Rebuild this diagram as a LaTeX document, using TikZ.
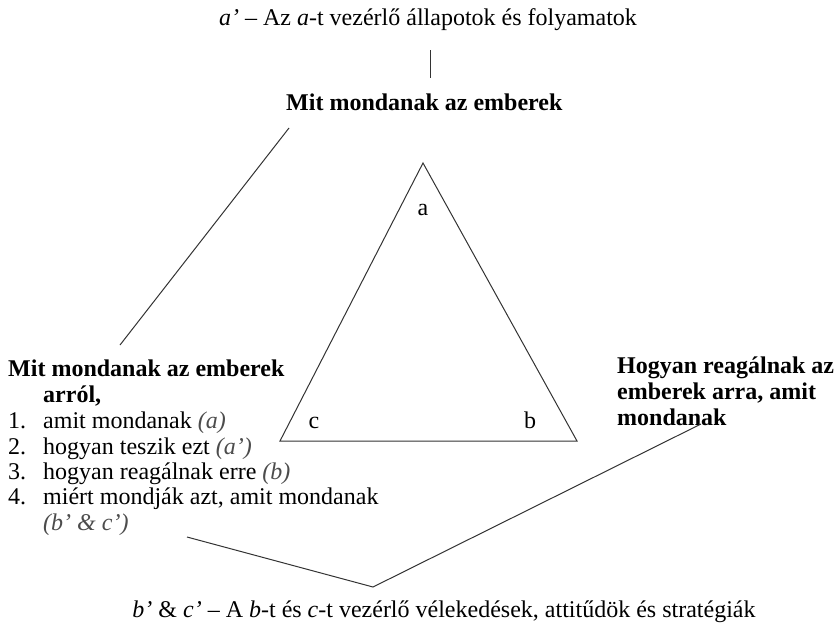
\documentclass[tikz,border=0pt]{standalone}
\usepackage{fontspec}
\setmainfont{Liberation Serif}
\begin{document}
\begin{tikzpicture}[x=1pt,y=-1pt,
  txt/.style={inner sep=0pt, anchor=base west, font=\fontsize{24}{26}\selectfont},
  ctxt/.style={inner sep=0pt, anchor=base, font=\fontsize{24}{26}\selectfont},
  bld/.style={inner sep=0pt, anchor=base west, font=\fontsize{24}{26}\selectfont\bfseries},
  ln/.style={line width=1pt, draw=black!80},
  par/.style={black!70}]
\useasboundingbox (0,0) rectangle (837,629);
% top text
\node[ctxt] (top) at (428,25) {\textit{a’} – Az \textit{a}-t vezérlő állapotok és folyamatok};
\node[bld] (mit) at (286,110) {Mit mondanak az emberek};
% triangle
\coordinate (A) at (423,163);
\coordinate (B) at (577,441);
\coordinate (C) at (280,441);
\draw[ln] (A) -- (B) -- (C) -- cycle;
\node[ctxt] (la) at (423,215) {a};
\node[ctxt] (lb) at (530,428) {b};
\node[ctxt] (lc) at (314,428) {c};
% left block
\node[bld] (l1) at (8,376) {Mit mondanak az emberek};
\node[bld] (l2) at (43,402) {arról,};
\node[txt] (n1) at (8,428) {1.};
\node[txt] (t1) at (43,428) {amit mondanak \textit{\color{black!70}(a)}};
\node[txt] (n2) at (8,454) {2.};
\node[txt] (t2) at (43,454) {hogyan teszik ezt \textit{\color{black!70}(a’)}};
\node[txt] (n3) at (8,479) {3.};
\node[txt] (t3) at (43,479) {hogyan reagálnak erre \textit{\color{black!70}(b)}};
\node[txt] (n4) at (8,504) {4.};
\node[txt] (t4) at (43,504) {miért mondják azt, amit mondanak};
\node[txt] (t5) at (43,530) {\textit{\color{black!70}(b’ \& c’)}};
% right block
\node[bld] (r1) at (617,373) {Hogyan reagálnak az};
\node[bld] (r2) at (617,399) {emberek arra, amit};
\node[bld] (r3) at (617,425) {mondanak};
% bottom text
\node[ctxt] (bot) at (444,617) {\textit{b’} \& \textit{c’} – A \textit{b}-t és \textit{c}-t vezérlő vélekedések, attitűdök és stratégiák};
% connectors
\coordinate (v1) at (430,50);
\coordinate (v2) at (430,78);
\draw[ln] (v1) -- (v2);
\coordinate (d1) at (289,128);
\coordinate (d2) at (120,345);
\draw[ln] (d1) -- (d2);
\coordinate (w1) at (187,537);
\coordinate (w2) at (373,587);
\coordinate (w3) at (701,424);
\draw[ln] (w1) -- (w2) -- (w3);
\end{tikzpicture}
\end{document}
